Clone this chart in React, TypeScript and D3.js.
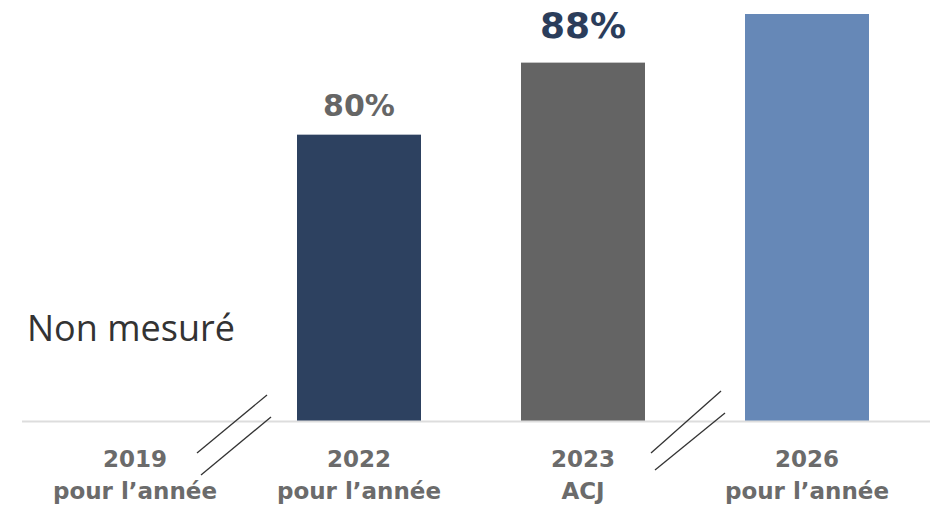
import React from "react";
import * as d3 from "d3";

const categories = ["2019", "2022", "2023", "2026"];
const subLabels = ["pour l’année", "pour l’année", "ACJ", "pour l’année"];
const values: (number | null)[] = [null, 80, 88, 93.4];
const valueLabels = ["", "80%", "88%", ""];
const barColors = ["#2d4160", "#2d4160", "#646464", "#6688b7"];
const labelColors = ["#666666", "#666666", "#2b3d5b", "#666666"];
const labelSizes = [30, 30, 36, 30];
const labelOffsets = [19, 19, 25, 19];
const notMeasured = "Non mesuré";

const W = 930;
const H = 508;
const BOLD_FONT = "'DejaVu Sans', sans-serif";
const TEXT_FONT = "'Open Sans', 'DejaVu Sans', sans-serif";

export default function App() {
  const x = d3.scalePoint<string>().domain(categories).range([23, 919]).padding(0.5);
  const y = d3.scaleLinear().domain([48.2, 93.4]).range([421, 14]);
  const barW = 124;
  const step = x.step();

  const breaks = [
    x(categories[0])! + step / 2 - 15,
    x(categories[2])! + step / 2 - 9,
  ];

  return (
    <svg width={W} height={H} style={{ position: "absolute", left: 0, top: 0, background: "#fff" }}>
      {categories.map((c, i) => {
        const v = values[i];
        if (v == null) return null;
        return (
          <g key={c}>
            <rect x={x(c)! - barW / 2} y={y(v)} width={barW} height={y.range()[0] - y(v)} fill={barColors[i]} />
            {valueLabels[i] && (
              <text
                x={x(c)!}
                y={y(v) - labelOffsets[i]}
                textAnchor="middle"
                fontFamily={BOLD_FONT}
                fontWeight={700}
                fontSize={labelSizes[i]}
                fill={labelColors[i]}
              >
                {valueLabels[i]}
              </text>
            )}
          </g>
        );
      })}
      <line x1={22} x2={W} y1={421.5} y2={421.5} stroke="#dddddd" strokeWidth={2} />
      {breaks.map((bx, i) => (
        <g key={i} stroke="#333" strokeWidth={1.3}>
          <line x1={bx - 35} y1={453} x2={bx + 35} y2={395 - i * 4} />
          <line x1={bx - 31} y1={475 - i * 5} x2={bx + 39} y2={417 - i * 4} />
        </g>
      ))}
      {categories.map((c, i) => (
        <g key={"l" + c} fontFamily={BOLD_FONT} fontWeight={700} fontSize={23} fill="#6b6b6b" textAnchor="middle">
          <text x={x(c)!} y={467}>{c}</text>
          <text x={x(c)!} y={499}>{subLabels[i]}</text>
        </g>
      ))}
      <text x={27} y={341} fontFamily={TEXT_FONT} fontSize={36} fontWeight={500} fill="#333333">
        {notMeasured}
      </text>
    </svg>
  );
}
